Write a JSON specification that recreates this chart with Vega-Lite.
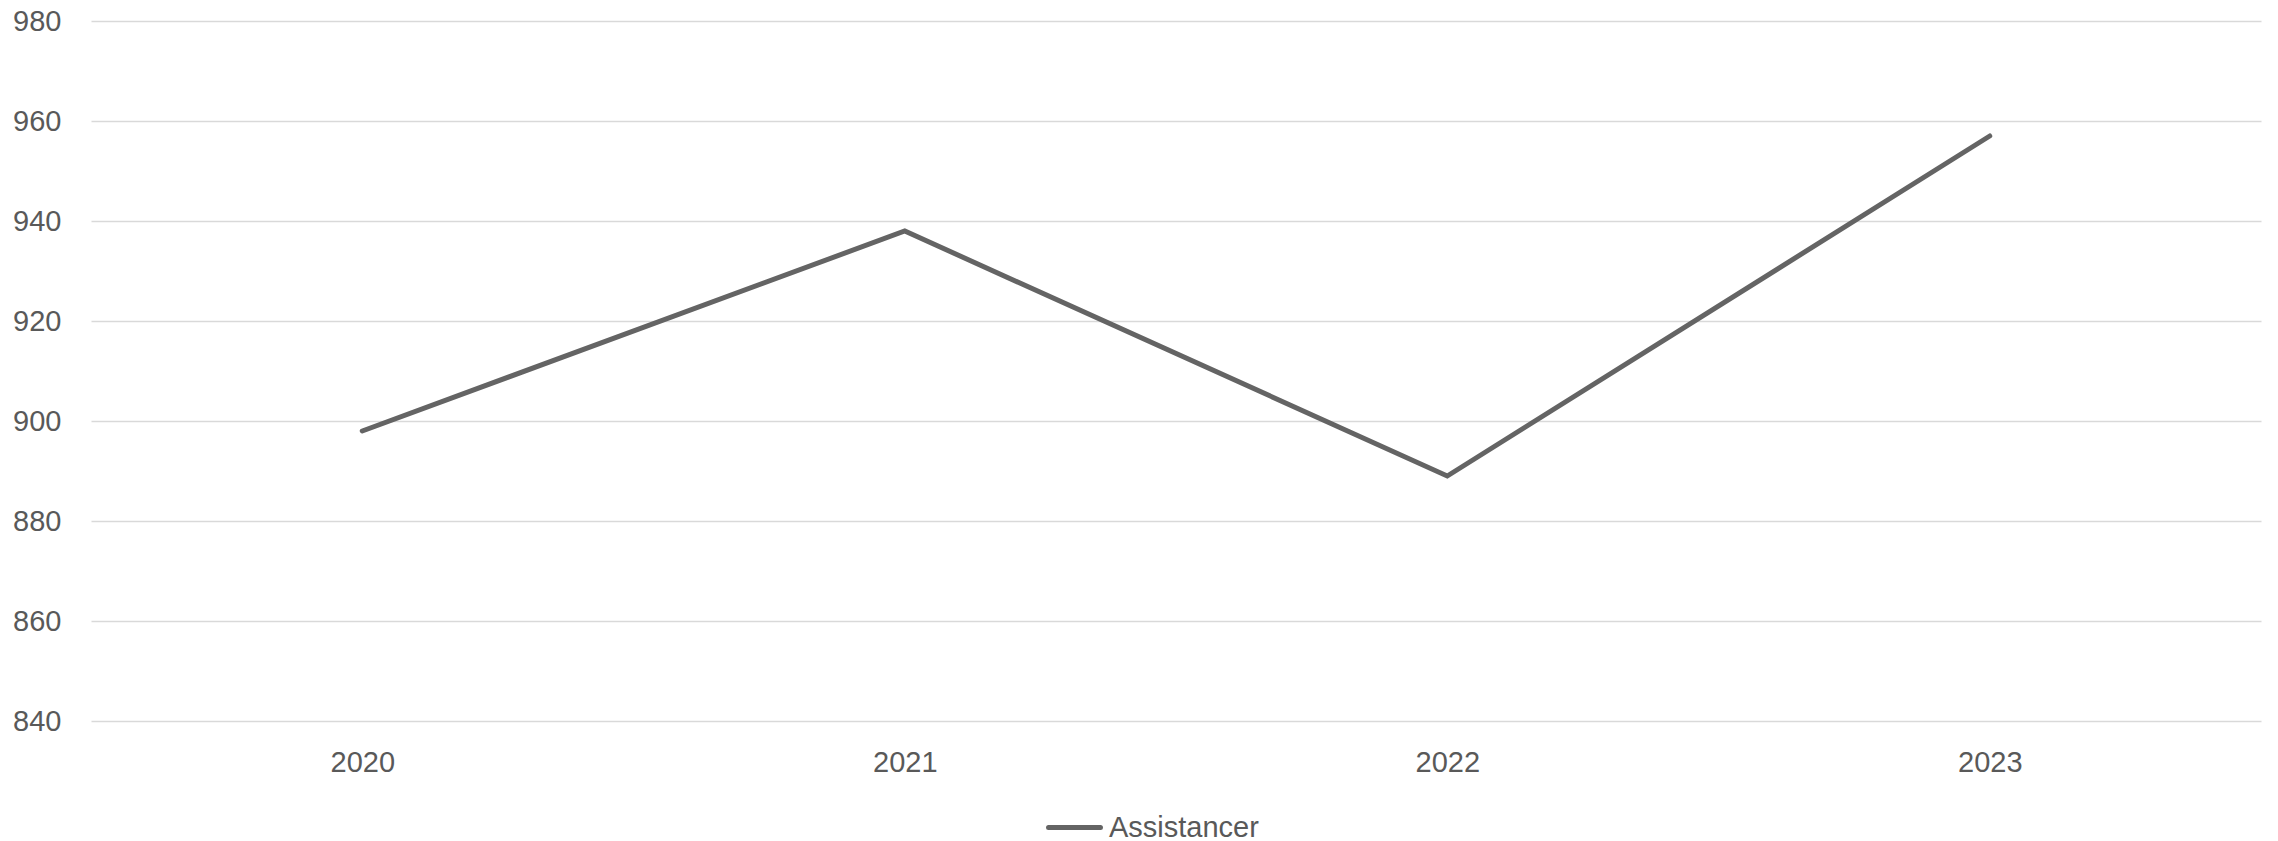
{
  "$schema": "https://vega.github.io/schema/vega-lite/v6.json",
  "autosize": {"type": "none"},
  "padding": {"left": 91, "top": 21, "right": 17, "bottom": 120},
  "width": 2170,
  "height": 700,
  "background": "white",
  "config": {
    "view": {"stroke": null},
    "font": "Liberation Sans",
    "axis": {"labelFont": "Liberation Sans", "labelFontSize": 29, "labelColor": "#595959"},
    "legend": {"labelFont": "Liberation Sans", "labelFontSize": 29, "labelColor": "#595959"}
  },
  "data": {
    "values": [
      {"year": "2020", "value": 898, "series": "Assistancer"},
      {"year": "2021", "value": 938, "series": "Assistancer"},
      {"year": "2022", "value": 889, "series": "Assistancer"},
      {"year": "2023", "value": 957, "series": "Assistancer"}
    ]
  },
  "mark": {"type": "line", "strokeWidth": 5, "strokeCap": "round", "strokeJoin": "miter"},
  "encoding": {
    "x": {
      "field": "year",
      "type": "ordinal",
      "scale": {"type": "point", "padding": 0.5},
      "axis": {"title": null, "domain": false, "ticks": false, "grid": false, "labelAngle": 0, "labelPadding": 27}
    },
    "y": {
      "field": "value",
      "type": "quantitative",
      "scale": {"domain": [840, 980], "zero": false, "nice": false},
      "axis": {
        "title": null,
        "domain": false,
        "ticks": false,
        "values": [840, 860, 880, 900, 920, 940, 960, 980],
        "grid": true,
        "gridColor": "#d9d9d9",
        "gridWidth": 1.3,
        "labelPadding": 30
      }
    },
    "color": {
      "field": "series",
      "type": "nominal",
      "scale": {"range": ["#646464"]},
      "legend": {
        "title": null,
        "orient": "none",
        "legendX": 955,
        "legendY": 778,
        "symbolType": "stroke",
        "symbolSize": 2700,
        "symbolStrokeWidth": 5,
        "labelOffset": 6,
        "encode": {"symbols": {"update": {"strokeCap": {"value": "round"}}}}
      }
    }
  }
}
